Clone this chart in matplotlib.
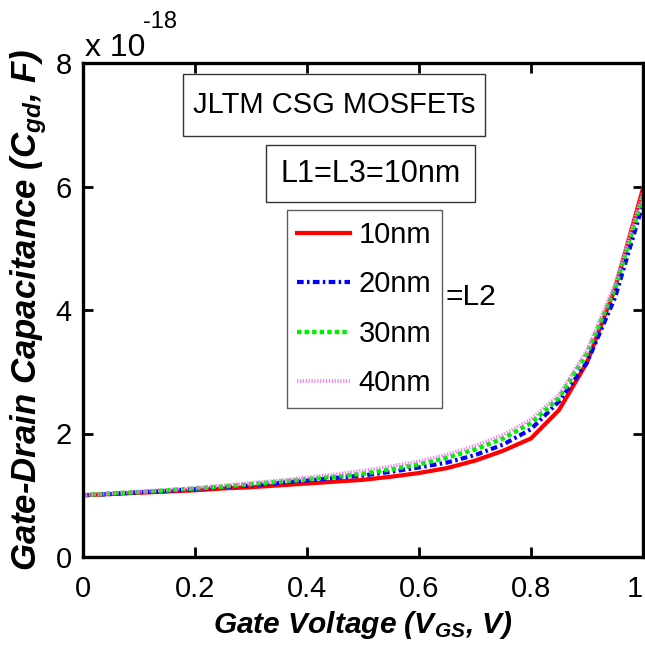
import matplotlib
matplotlib.use("Agg")
import matplotlib.pyplot as plt
from matplotlib.patches import Rectangle

# Gate voltage sweep (V) and gate-drain capacitance (units of 1e-18 F)
vgs = [0.00, 0.05, 0.10, 0.15, 0.20, 0.25, 0.30, 0.35, 0.40, 0.45, 0.50,
       0.55, 0.60, 0.65, 0.70, 0.75, 0.80, 0.85, 0.90, 0.95, 1.00]
cgd_10nm = [1.00, 1.02, 1.04, 1.06, 1.08, 1.11, 1.13, 1.16, 1.19, 1.22, 1.25,
            1.30, 1.36, 1.44, 1.56, 1.72, 1.92, 2.38, 3.15, 4.35, 5.97]
cgd_20nm = [1.00, 1.02, 1.05, 1.07, 1.10, 1.13, 1.16, 1.20, 1.24, 1.28, 1.32,
            1.38, 1.45, 1.53, 1.65, 1.82, 2.07, 2.52, 3.15, 4.20, 5.72]
cgd_30nm = [1.00, 1.03, 1.05, 1.08, 1.11, 1.14, 1.18, 1.22, 1.26, 1.30, 1.35,
            1.42, 1.50, 1.61, 1.74, 1.92, 2.17, 2.58, 3.30, 4.35, 5.85]
cgd_40nm = [1.00, 1.03, 1.06, 1.09, 1.12, 1.16, 1.20, 1.24, 1.29, 1.34, 1.40,
            1.47, 1.55, 1.66, 1.80, 1.98, 2.23, 2.63, 3.35, 4.42, 5.92]
series_labels = ["10nm", "20nm", "30nm", "40nm"]
x_ticks = [0, 0.2, 0.4, 0.6, 0.8, 1]
x_tick_labels = ["0", "0.2", "0.4", "0.6", "0.8", "1"]
y_ticks = [0, 2, 4, 6, 8]

plt.rcParams["font.family"] = ["Liberation Sans", "DejaVu Sans"]
plt.rcParams["mathtext.default"] = "regular"

fig = plt.figure(figsize=(6.45, 6.5), dpi=100)
ax = fig.add_axes([83 / 645, 1 - 557 / 650, 560 / 645, 494 / 650])

ax.plot(vgs, cgd_10nm, color="#ff0000", lw=3.0, ls="-", label=series_labels[0])
ax.plot(vgs, cgd_20nm, color="#0000ff", lw=3.0, ls=(0, (1.6, 0.8, 0.6, 0.8)),
        label=series_labels[1])
ax.plot(vgs, cgd_30nm, color="#00ee00", lw=3.2, ls=(0, (1.0, 0.7)),
        label=series_labels[2])
ax.plot(vgs, cgd_40nm, color="#f07ff0", lw=2.6, ls=(0, (0.35, 0.45)),
        label=series_labels[3])

ax.set_xlim(0, 1)
ax.set_ylim(0, 8)
ax.set_xticks(x_ticks)
ax.set_xticklabels(x_tick_labels)
ax.set_yticks(y_ticks)
ax.tick_params(direction="in", length=7, width=2, labelsize=21,
               top=True, right=True)
ax.tick_params(axis="x", pad=13)
ax.tick_params(axis="y", pad=8)
ax.get_xticklabels()[-1].set_horizontalalignment("right")
for sp in ax.spines.values():
    sp.set_linewidth(2.4)

ax.set_xlabel("Gate Voltage (V$_{GS}$, V)", fontsize=21.5, fontweight="bold",
              fontstyle="italic", labelpad=4)
ax.set_ylabel("Gate-Drain Capacitance (C$_{gd}$, F)", fontsize=25,
              fontweight="bold", fontstyle="italic", labelpad=5)

# scale factor of the y axis
fig.text(85 / 645, 1 - 56 / 650, "x 10", fontsize=23, ha="left", va="baseline")
fig.text(143 / 645, 1 - 28 / 650, "-18", fontsize=17, ha="left", va="baseline")

# annotation boxes
ax.add_patch(Rectangle((0.1786, 0.852), 0.718 - 0.1786, 0.978 - 0.852,
                       transform=ax.transAxes, fill=False, lw=1.0, ec="#333333"))
ax.text(0.448, 0.915, "JLTM CSG MOSFETs", transform=ax.transAxes,
        fontsize=21, ha="center", va="center")
ax.add_patch(Rectangle((0.327, 0.719), 0.70 - 0.327, 0.834 - 0.719,
                       transform=ax.transAxes, fill=False, lw=1.0, ec="#333333"))
ax.text(0.513, 0.776, "L1=L3=10nm", transform=ax.transAxes,
        fontsize=22, ha="center", va="center")

leg = ax.legend(loc="upper left", bbox_to_anchor=(0.364, 0.702), fontsize=21,
                frameon=True, fancybox=False, handlelength=1.8, handletextpad=0.3,
                labelspacing=0.74, borderpad=0.36, borderaxespad=0)
leg.get_frame().set_edgecolor("#333333")
leg.get_frame().set_linewidth(1.0)

ax.text(0.648, 0.526, "=L2", transform=ax.transAxes, fontsize=21.5,
        ha="left", va="center")

fig.savefig("out.png", dpi=100)
